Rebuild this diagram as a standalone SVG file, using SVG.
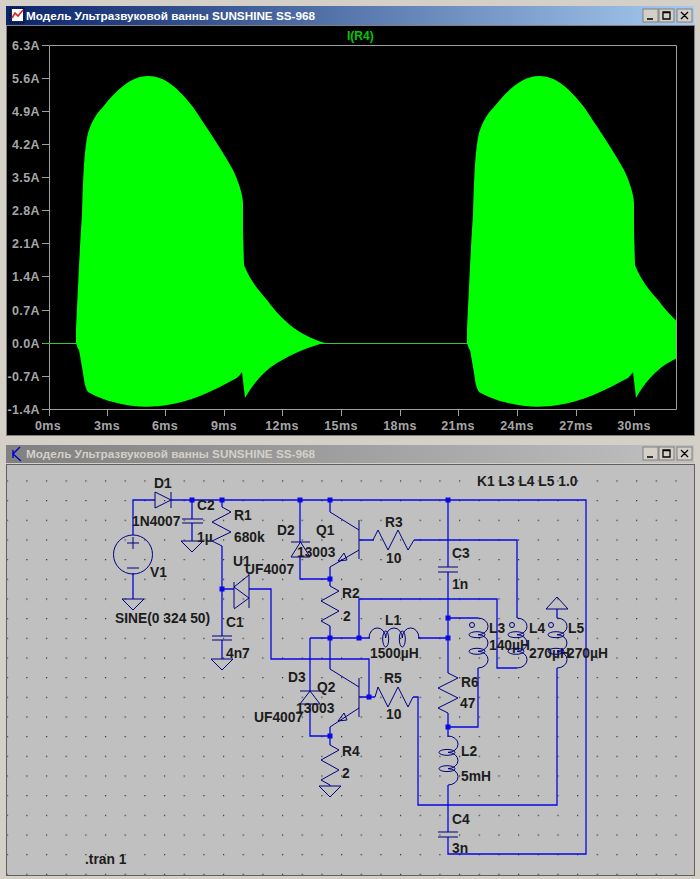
<svg xmlns="http://www.w3.org/2000/svg" xmlns:xlink="http://www.w3.org/1999/xlink" width="700" height="879" viewBox="0 0 700 879">
<style>
.ttl{font:bold 11.5px "Liberation Sans",Arial,sans-serif}
.ax{font:bold 12.5px "Liberation Sans",Arial,sans-serif;fill:#a6a6a6;letter-spacing:.4px}
.axe{text-anchor:end}
.axm{text-anchor:middle}
.tick{stroke:#a0a0a0;stroke-width:1;fill:none}
.w{stroke:#0808e0;stroke-width:1.3;fill:none}
.s{stroke:#000080;stroke-width:1;fill:none}
.j{fill:#0808e8}
.l{font:bold 13.8px "Liberation Sans",Arial,sans-serif;fill:#1c1c1c}
.btn{fill:#d4d0c8;stroke:#808080;stroke-width:1}
.g{stroke:#000;stroke-width:1.3;fill:none}
</style>
<defs>
<linearGradient id="act" x1="0" x2="1" y1="0" y2="0"><stop offset="0" stop-color="#0a246a"/><stop offset="1" stop-color="#a6caf0"/></linearGradient>
<linearGradient id="ina" x1="0" x2="1" y1="0" y2="0"><stop offset="0" stop-color="#808080"/><stop offset="1" stop-color="#c0c0c0"/></linearGradient>
<pattern id="grid" x="6.6" y="8.3" width="19.67" height="19.67" patternUnits="userSpaceOnUse"><rect x="0" y="0" width="1.2" height="1.2" fill="#2a2a2a"/></pattern>
<clipPath id="plot"><rect x="49" y="45" width="627" height="364"/></clipPath>
<path id="burst" fill="#00ff00" d="M76,343L76,330C78,290 80,240 82,215C83,180 84,150 88,133C92,120 97,113 103,107C115,92 130,76 148,76C165,76 178,88 193,107C205,125 222,150 233,170C238,180 243,195 243,203L243,230L244,265C250,280 258,290 267,300C275,311 282,318 290,325C300,333 312,339 325,343C310,346 292,354 277,363C265,370 254,382 245,398L242,372C238,378 235,379 233,380C215,390 190,402 167,405C150,408 130,407 113,402C105,400 95,396 88,392C85,388 84,380 83,373L79,350L78,349Z"/>
<g id="coil" class="s"><path d="M0,0A10,8.3 0 0 1 0,16.7A10,8.3 0 0 1 0,33.3A10,8.3 0 0 1 0,50"/><ellipse cx="-1" cy="16.7" rx="8" ry="3"/><ellipse cx="-1" cy="33.3" rx="8" ry="3"/></g>
<polygon id="gnd" class="s" points="-11,0 11,0 0,11"/>
<g id="btns">
<rect class="btn" x="643" y="0" width="15" height="13"/><rect class="btn" x="659" y="0" width="15" height="13"/><rect class="btn" x="677" y="0" width="15" height="13"/>
<path class="g" d="M647,10H653M663,3H670V10H663ZM663,3.6H670M681,3L688,10M688,3L681,10"/>
</g>
</defs>
<rect width="700" height="879" fill="#d4d0c8"/>

<g id="plot-window">
<rect x="6" y="6" width="688" height="19" fill="url(#act)"/>
<path d="M12,9H23V21H12Z" fill="#fff"/>
<path d="M10,8H24V23H10Z" fill="none" stroke="#000" stroke-dasharray="1 1"/>
<path d="M12,18L15,13L18,16L23,10" fill="none" stroke="#e02020" stroke-width="1.6"/>
<text class="ttl" x="26" y="19.5" fill="#fff" textLength="289" lengthAdjust="spacingAndGlyphs">Модель Ультразвуковой ванны SUNSHINE SS-968</text>
<use href="#btns" xlink:href="#btns" y="9"/>
<rect x="6.5" y="25.5" width="688" height="410" fill="#000" stroke="#808080"/>
<path class="tick" d="M49.5,45.5H676.5V409.5H49.5ZM42,45.5H49M42,78.5H49M42,111.5H49M42,144.5H49M42,177.5H49M42,210.5H49M42,243.5H49M42,276.5H49M42,310.5H49M42,343.5H49M42,376.5H49M42,409.5H49M49.5,409V416M107.5,409V416M165.5,409V416M224.5,409V416M282.5,409V416M341.5,409V416M400.5,409V416M458.5,409V416M517.5,409V416M576.5,409V416M634.5,409V416"/>
<path d="M43,343.5H470" stroke="#35c835" stroke-width="1"/>
<g clip-path="url(#plot)"><use href="#burst" xlink:href="#burst"/><use href="#burst" xlink:href="#burst" x="391"/></g>
<text x="347" y="39.500" font-family="Liberation Sans,Arial,sans-serif" font-size="12" font-weight="bold" fill="#00c800">I(R4)</text>
<g>
<text class="ax axe" x="40" y="50">6.3A</text><text class="ax axe" x="40" y="83">5.6A</text><text class="ax axe" x="40" y="116">4.9A</text><text class="ax axe" x="40" y="149">4.2A</text><text class="ax axe" x="40" y="182">3.5A</text><text class="ax axe" x="40" y="215">2.8A</text><text class="ax axe" x="40" y="248">2.1A</text><text class="ax axe" x="40" y="281">1.4A</text><text class="ax axe" x="40" y="315">0.7A</text><text class="ax axe" x="40" y="348">0.0A</text><text class="ax axe" x="40" y="381">-0.7A</text><text class="ax axe" x="40" y="414">-1.4A</text>
</g>
<g>
<text class="ax axm" x="48" y="430">0ms</text><text class="ax axm" x="107" y="430">3ms</text><text class="ax axm" x="165" y="430">6ms</text><text class="ax axm" x="224" y="430">9ms</text><text class="ax axm" x="282" y="430">12ms</text><text class="ax axm" x="341" y="430">15ms</text><text class="ax axm" x="400" y="430">18ms</text><text class="ax axm" x="458" y="430">21ms</text><text class="ax axm" x="517" y="430">24ms</text><text class="ax axm" x="576" y="430">27ms</text><text class="ax axm" x="634" y="430">30ms</text>
</g>
</g>

<g id="schematic-window">
<rect x="6" y="445" width="688" height="18" fill="url(#ina)"/>
<path d="M20,447L13,454L21,461M13,450V458" fill="none" stroke="#0000d0" stroke-width="1.4"/>
<text class="ttl" x="26" y="458" fill="#d4d0c8" textLength="289" lengthAdjust="spacingAndGlyphs">Модель Ультразвуковой ванны SUNSHINE SS-968</text>
<use href="#btns" xlink:href="#btns" y="447"/>
<rect x="6.500" y="464.500" width="688" height="411" fill="#c0c0c0" stroke="#606060"/>
<rect x="7" y="465" width="687" height="410" fill="url(#grid)"/>
</g>

<g id="connectors">
<path class="w" d="M133,535V500H155M171,500H586V854H448V837"/>
<path class="w" d="M192,500V519M192,523V541M222,500V507M222,546V636M222,640V659M222,589H234M249,589H271V659H369V697"/>
<path class="w" d="M300,500V542M300,557V579H330M330,500V512M330,567V586"/>
<path class="w" d="M330,626V669M310,638H370M418,638H448M359,638V599H497V668H517"/>
<path class="w" d="M448,500V567M448,572V673M448,713V737M448,785V832"/>
<path class="w" d="M448,618H478M478,668V727H448"/>
<path class="w" d="M414,540H517V618"/>
<path class="w" d="M557,609V618M557,668V805H418V697H413"/>
<path class="w" d="M310,638V691M310,704V736H330M330,727V745M330,785V786M133,573V599"/>
<path class="w" d="M359,540H374M359,697H375"/>
</g>

<g id="junctions" class="j">
<rect x="189.500" y="497.500" width="5" height="5"/><rect x="219.500" y="497.500" width="5" height="5"/><rect x="297.500" y="497.500" width="5" height="5"/><rect x="327.500" y="497.500" width="5" height="5"/><rect x="445.500" y="497.500" width="5" height="5"/>
<rect x="219.500" y="586.500" width="5" height="5"/><rect x="327.500" y="576.500" width="5" height="5"/><rect x="327.500" y="635.500" width="5" height="5"/><rect x="356.500" y="635.500" width="5" height="5"/><rect x="445.500" y="615.500" width="5" height="5"/><rect x="445.500" y="635.500" width="5" height="5"/><rect x="366.500" y="694.500" width="5" height="5"/><rect x="327.500" y="733.500" width="5" height="5"/><rect x="445.500" y="724.500" width="5" height="5"/>
</g>

<g id="D1"><path class="s" d="M155,492L171,500L155,508ZM171,492V508"/><text class="l" x="154" y="488">D1</text><text class="l" x="132" y="526">1N4007</text></g>
<g id="V1"><circle class="s" cx="133" cy="554.500" r="19.500"/><path class="s" d="M127,543H139M133,537V549M127,568H139"/><use href="#gnd" xlink:href="#gnd" x="133" y="599"/><text class="l" x="150" y="577">V1</text><text class="l" x="115" y="623">SINE(0 324 50)</text></g>
<g id="C2"><path class="s" d="M182,519H203M182,523H203"/><use href="#gnd" xlink:href="#gnd" x="192" y="541"/><text class="l" x="197" y="510">C2</text><text class="l" x="197" y="542">1µ</text></g>
<g id="R1"><path class="s" d="M222,507L231,512L212,522L231,532L212,541L222,546"/><text class="l" x="234" y="520">R1</text><text class="l" x="234" y="542">680k</text></g>
<g id="U1"><path class="s" d="M234,582V608M249,573V608M249,575L234,587L249,598L234,609"/><text class="l" x="233" y="566">U1</text><text class="l" x="245" y="574">UF4007</text></g>
<g id="C1"><path class="s" d="M212,636H232M212,640H232"/><use href="#gnd" xlink:href="#gnd" x="222" y="659"/><text class="l" x="226" y="627">C1</text><text class="l" x="226" y="658">4n7</text></g>
<g id="D2"><path class="s" d="M291,542H310M291,557H310L300.500,542Z"/><text class="l" x="277" y="535">D2</text></g>
<g id="Q1"><path class="s" d="M359,520V559M330,512L359,530M359,550L330,567M338,561L344,553L347,560Z"/><text class="l" x="316" y="535">Q1</text><text class="l" x="297" y="557">13003</text></g>
<g id="R2"><path class="s" d="M330,586L339,591L321,601L339,611L321,621L330,626"/><text class="l" x="342" y="598">R2</text><text class="l" x="343" y="621">2</text></g>
<g id="R3"><path class="s" d="M373,540L378,530L388,550L398,530L408,550L414,540"/><text class="l" x="385" y="527">R3</text><text class="l" x="386" y="563">10</text></g>
<g id="C3"><path class="s" d="M438,567H458M438,572H458"/><text class="l" x="452" y="558">C3</text><text class="l" x="452" y="589">1n</text></g>
<g id="K1"><text class="l" x="477" y="486">K1 L3 L4 L5 1.0</text></g>
<g id="L1"><use href="#coil" xlink:href="#coil" transform="translate(369,638) rotate(-90)"/><text class="l" x="385" y="625">L1</text><text class="l" x="370" y="658">1500µH</text></g>
<g id="L3"><use href="#coil" xlink:href="#coil" x="478" y="618"/><circle class="s" cx="472" cy="625" r="2.500"/><text class="l" x="489" y="633">L3</text><text class="l" x="489" y="650">140µH</text></g>
<g id="L4"><use href="#coil" xlink:href="#coil" x="517" y="618"/><circle class="s" cx="512" cy="625" r="2.500"/><text class="l" x="529" y="633">L4</text><text class="l" x="529" y="658">270µH</text></g>
<g id="L5"><use href="#coil" xlink:href="#coil" x="557" y="618"/><circle class="s" cx="551" cy="625" r="2.500"/><polygon class="s" points="546,609 568,609 557,597"/><text class="l" x="568" y="633">L5</text><text class="l" x="567" y="658">270µH</text></g>
<g id="D3"><path class="s" d="M300,691H320M300,704H320L310,691Z"/><text class="l" x="288" y="682">D3</text><text class="l" x="254" y="722">UF4007</text></g>
<g id="Q2"><path class="s" d="M359,678V717M330,669L359,687M359,708L330,727M338,721L344,713L347,720Z"/><text class="l" x="317" y="692">Q2</text><text class="l" x="296" y="713">13003</text></g>
<g id="R5"><path class="s" d="M375,697L378,687L388,707L398,687L408,707L413,697"/><text class="l" x="384" y="683">R5</text><text class="l" x="386" y="719">10</text></g>
<g id="R6"><path class="s" d="M448,673L458,678L438,688L458,698L438,708L448,713"/><text class="l" x="461" y="687">R6</text><text class="l" x="460" y="708">47</text></g>
<g id="R4"><path class="s" d="M330,745L339,750L321,760L339,770L321,780L330,785"/><use href="#gnd" xlink:href="#gnd" x="330" y="786"/><text class="l" x="342" y="756">R4</text><text class="l" x="342" y="778">2</text></g>
<g id="L2"><use href="#coil" xlink:href="#coil" transform="translate(448,736) scale(1,0.98)"/><text class="l" x="461" y="756">L2</text><text class="l" x="461" y="781">5mH</text></g>
<g id="C4"><path class="s" d="M438,832H458M438,837H458"/><text class="l" x="452" y="824">C4</text><text class="l" x="452" y="853">3n</text></g>
<g id="directive"><text class="l" x="85" y="864">.tran 1</text></g>
</svg>
